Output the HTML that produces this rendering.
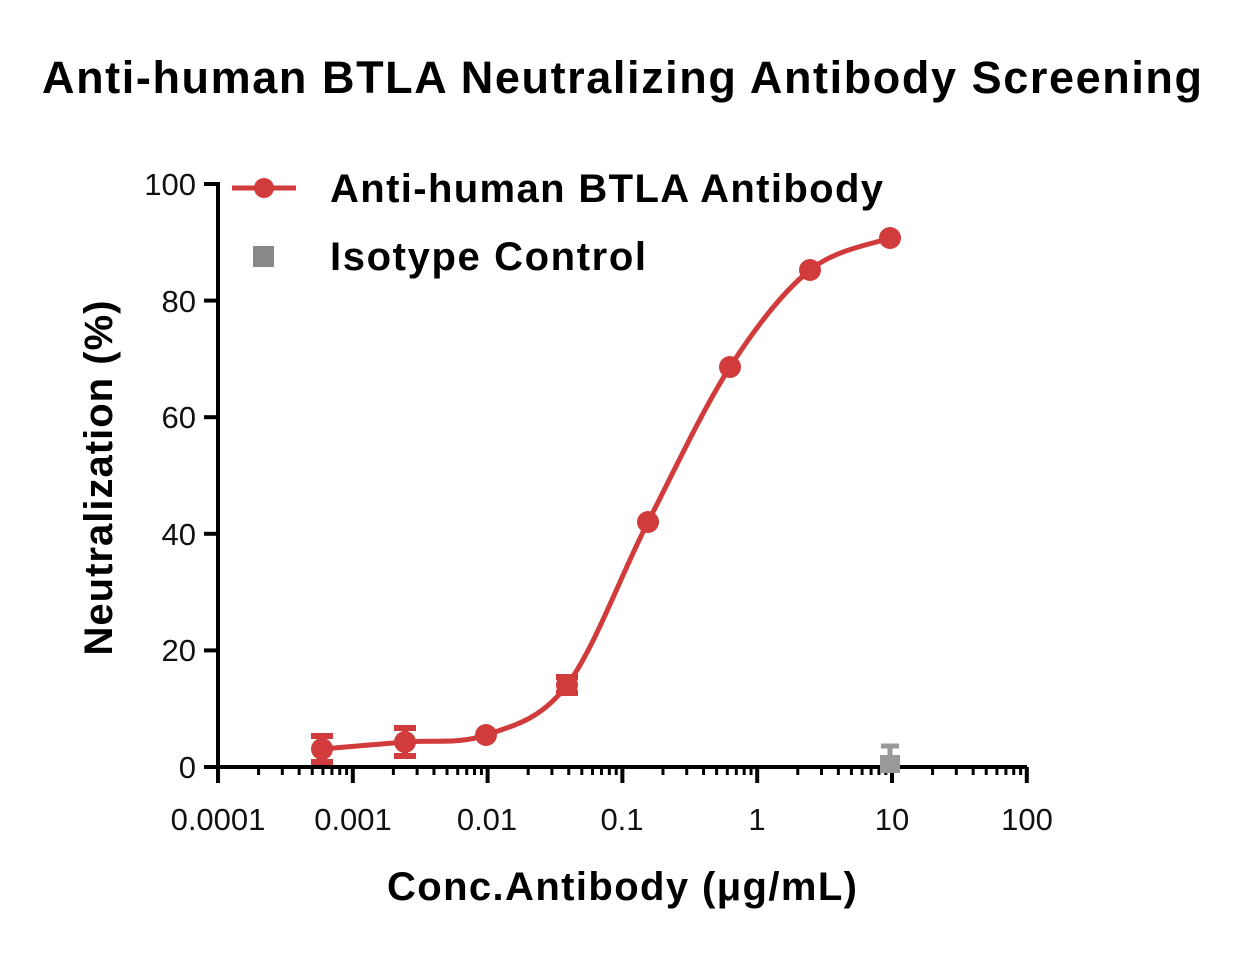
<!DOCTYPE html>
<html><head><meta charset="utf-8"><style>
body{margin:0;background:#fff;width:1245px;height:953px;overflow:hidden}
text{font-family:"Liberation Sans",sans-serif}
</style></head><body>
<svg id="s" width="1245" height="953" xmlns="http://www.w3.org/2000/svg">
<text x="622" y="93" text-anchor="middle" font-size="45" font-weight="bold" fill="#000" textLength="1160">Anti-human BTLA Neutralizing Antibody Screening</text>
<g id="ax" stroke="#000" stroke-width="4" fill="none"></g>
<g font-size="31" fill="#111">
<text x="196" y="778" text-anchor="end">0</text>
<text x="196" y="661" text-anchor="end">20</text>
<text x="196" y="545" text-anchor="end">40</text>
<text x="196" y="428" text-anchor="end">60</text>
<text x="196" y="312" text-anchor="end">80</text>
<text x="196" y="195" text-anchor="end">100</text>
<text x="218" y="830" text-anchor="middle">0.0001</text>
<text x="353" y="830" text-anchor="middle">0.001</text>
<text x="487" y="830" text-anchor="middle">0.01</text>
<text x="622" y="830" text-anchor="middle">0.1</text>
<text x="757" y="830" text-anchor="middle">1</text>
<text x="892" y="830" text-anchor="middle">10</text>
<text x="1027" y="830" text-anchor="middle">100</text>
</g>
<text x="622" y="900" text-anchor="middle" font-size="40" font-weight="bold" textLength="470">Conc.Antibody (μg/mL)</text>
<text transform="translate(112,478) rotate(-90)" text-anchor="middle" font-size="40" font-weight="bold" textLength="355">Neutralization (%)</text>
<g id="data"></g>
<line x1="232" y1="188" x2="296" y2="188" stroke="#d23b3b" stroke-width="5"/>
<circle cx="264" cy="188" r="10" fill="#d23b3b"/>
<rect x="253" y="246" width="21" height="21" fill="#888"/>
<text x="330" y="202" font-size="40" font-weight="bold" textLength="553">Anti-human BTLA Antibody</text>
<text x="330" y="270" font-size="40" font-weight="bold" textLength="316">Isotype Control</text>
</svg>
<script>
var ns="http://www.w3.org/2000/svg",ax=document.getElementById("ax"),d=document.getElementById("data");
function X(v){return 218+(Math.log10(v)+4)*134.8}
function Y(p){return 767-p*5.83}
function el(p,t,a){var e=document.createElementNS(ns,t);for(var k in a)e.setAttribute(k,a[k]);p.appendChild(e);return e}
el(ax,"path",{d:"M218 182 V767 H1027"});
for(var i=0;i<=5;i++){var y=Y(i*20);el(ax,"line",{x1:204,y1:y,x2:218,y2:y});}
for(var e=-4;e<=2;e++){el(ax,"line",{x1:X(Math.pow(10,e)),y1:767,x2:X(Math.pow(10,e)),y2:783});
 if(e<2)for(var m=2;m<=9;m++){var x=X(m*Math.pow(10,e));el(ax,"line",{x1:x,y1:767,x2:x,y2:775,"stroke-width":3});}}
var P=[[322,749,13],[405,742,14],[486,735,0],[567,685,8],[648,522,0],[730,367,0],[810,270,0],[890,238,0]];
var pth="M"+P[0][0]+" "+P[0][1];
for(var i=0;i<P.length-1;i++){var p0=P[Math.max(i-1,0)],p1=P[i],p2=P[i+1],p3=P[Math.min(i+2,P.length-1)];
 pth+=" C"+(p1[0]+(p2[0]-p0[0])/6)+" "+(p1[1]+(p2[1]-p0[1])/6)+" "+(p2[0]-(p3[0]-p1[0])/6)+" "+(p2[1]-(p3[1]-p1[1])/6)+" "+p2[0]+" "+p2[1];}
el(d,"path",{d:pth,stroke:"#d23b3b","stroke-width":5,fill:"none"});
P.forEach(function(q){if(q[2]){el(d,"path",{d:"M"+q[0]+" "+(q[1]-q[2])+"V"+(q[1]+q[2])+"M"+(q[0]-11)+" "+(q[1]-q[2])+"h22M"+(q[0]-11)+" "+(q[1]+q[2])+"h22",stroke:"#d23b3b","stroke-width":6});}
 el(d,"circle",{cx:q[0],cy:q[1],r:11,fill:"#d23b3b"});});
el(d,"path",{d:"M890 746V766M881 746h18",stroke:"#999","stroke-width":5});
el(d,"rect",{x:880,y:755,width:20,height:18,fill:"#999"});
</script>
</body></html>
